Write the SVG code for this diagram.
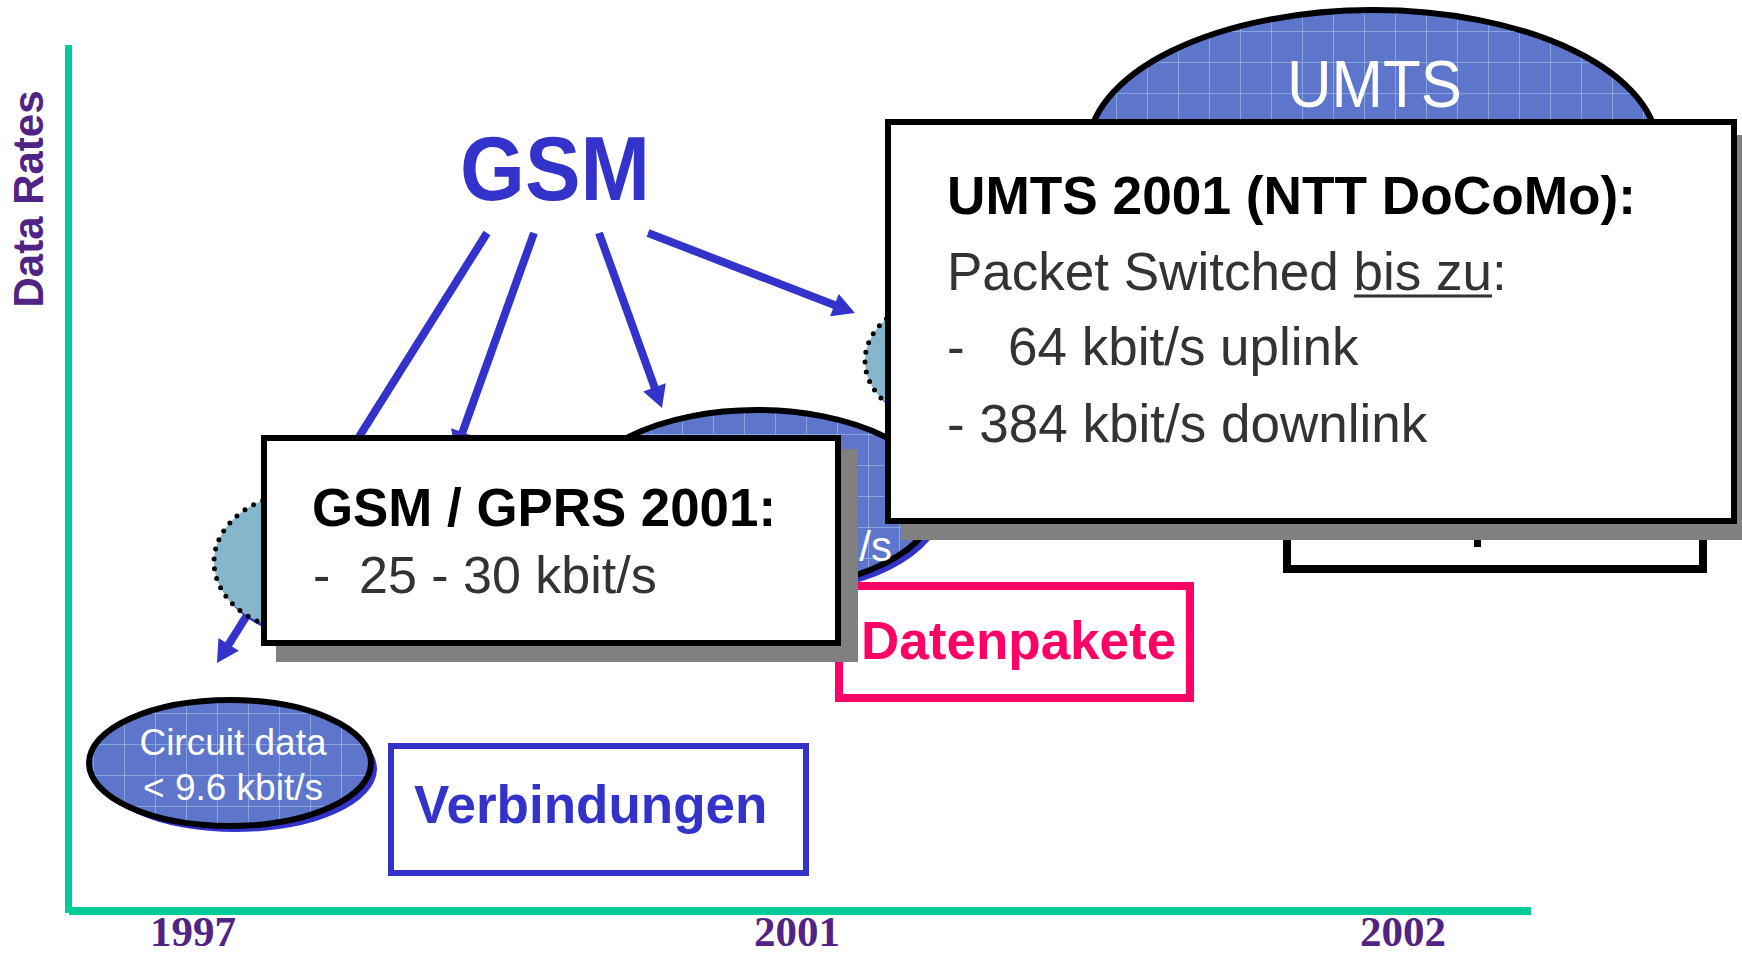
<svg xmlns="http://www.w3.org/2000/svg" width="1742" height="954" viewBox="0 0 1742 954">
  <defs>
    <!-- textured blue fill with a light grid, used by the technology ellipses -->
    <pattern id="gridFill" width="31" height="31" patternUnits="userSpaceOnUse">
      <rect width="31" height="31" fill="#5D76CC"/>
      <path d="M0 0.5H31M0.5 0V31" stroke="#93B4E0" stroke-width="1" opacity="0.75" fill="none"/>
    </pattern>
    <marker id="head" viewBox="0 -12 22 24" refX="2" refY="0" markerWidth="22" markerHeight="24" markerUnits="userSpaceOnUse" orient="auto" overflow="visible">
      <path d="M0 -12 L22 0 L0 12 Z" fill="#3333CC"/>
    </marker>
    <style>
      .axis { fill: #00CC99; }
      .arrow { stroke: #3333CC; stroke-width: 8; fill: none; marker-end: url(#head); }
      .ell { fill: url(#gridFill); stroke: #000; stroke-width: 6; }
      .ellShadow { fill: #3333CC; }
      .dotted { fill: #86B6CC; stroke: #000; stroke-width: 5; stroke-dasharray: 0 10; stroke-linecap: round; }
      .dotShadow { fill: #3333CC; }
      .panel { fill: #fff; stroke: #000; stroke-width: 6; }
      .panelShadow { fill: #808080; }
      .sans { font-family: "Liberation Sans", Arial, sans-serif; }
      .serif { font-family: "Liberation Serif", "Times New Roman", serif; }
      .bold { font-weight: bold; }
      .purple { fill: #502384; }
      .blue { fill: #3333CC; }
      .white { fill: #fff; }
      .dark { fill: #333333; }
      .black { fill: #000; }
    </style>
  </defs>

  <rect width="1742" height="954" fill="#fff"/>

  <!-- axes -->
  <g id="axes">
    <rect class="axis" x="65" y="45" width="7" height="868"/>
    <rect class="axis" x="69" y="907" width="1462" height="8"/>
    <text class="sans bold purple" font-size="42" text-anchor="middle" transform="translate(43,199) rotate(-90)">Data Rates</text>
    <text class="serif bold purple" font-size="43" x="193" y="946" text-anchor="middle">1997</text>
    <text class="serif bold purple" font-size="43" x="797" y="946" text-anchor="middle">2001</text>
    <text class="serif bold purple" font-size="43" x="1403" y="946" text-anchor="middle">2002</text>
  </g>

  <!-- connectors from GSM -->
  <g id="connectors">
    <line class="arrow" x1="487" y1="233" x2="227.6" y2="646.1"/>
    <line class="arrow" x1="534" y1="233" x2="461.8" y2="434.2"/>
    <line class="arrow" x1="599" y1="233" x2="655.2" y2="389.2"/>
    <line class="arrow" x1="648" y1="233" x2="836.3" y2="305.8"/>
  </g>

  <g id="gsm">
    <text class="sans bold blue" font-size="90" x="460" y="200" textLength="190" lengthAdjust="spacingAndGlyphs">GSM</text>
  </g>

  <g id="circuit-data">
    <ellipse class="ellShadow" cx="236" cy="769" rx="141" ry="63"/>
    <ellipse class="ell" cx="230" cy="763" rx="141" ry="63"/>
    <text class="sans white" font-size="37" x="233" y="755" text-anchor="middle">Circuit data</text>
    <text class="sans white" font-size="37" x="233" y="800" text-anchor="middle">&lt; 9.6 kbit/s</text>
  </g>

  <g id="dotted-left">
    <ellipse class="dotShadow" cx="311" cy="567" rx="93" ry="70"/>
    <ellipse class="dotted" cx="307" cy="562" rx="93" ry="70"/>
  </g>

  <g id="dotted-right">
    <ellipse class="dotShadow" cx="962" cy="366" rx="93" ry="66"/>
    <ellipse class="dotted" cx="958" cy="361" rx="93" ry="66"/>
  </g>

  <g id="gprs-ellipse">
    <ellipse class="ellShadow" cx="763" cy="506" rx="180" ry="90"/>
    <ellipse class="ell" cx="757" cy="500" rx="180" ry="90"/>
    <text class="sans white" font-size="42" x="892" y="561" text-anchor="end">/s</text>
  </g>

  <g id="umts-ellipse">
    <ellipse class="ellShadow" cx="1378" cy="155" rx="285" ry="140"/>
    <ellipse class="ell" cx="1373" cy="150" rx="285" ry="140"/>
    <text class="sans white" font-size="66" x="1287" y="107" textLength="175" lengthAdjust="spacingAndGlyphs">UMTS</text>
  </g>

  <g id="datenpakete">
    <rect x="839" y="586" width="351" height="112" fill="#fff" stroke="#FF0066" stroke-width="8"/>
    <text class="sans bold" fill="#FF0066" font-size="53" x="861" y="659">Datenpakete</text>
  </g>

  <g id="verbindungen">
    <rect x="391" y="746" width="415" height="127" fill="#fff" stroke="#3333CC" stroke-width="6"/>
    <text class="sans bold blue" font-size="53" x="414" y="823">Verbindungen</text>
  </g>

  <g id="back-panel">
    <rect x="1287" y="470" width="416" height="99" fill="#fff" stroke="#000" stroke-width="8"/>
    <rect x="1474" y="538" width="7" height="9" fill="#000"/>
  </g>

  <g id="umts-panel">
    <rect class="panelShadow" x="901" y="135" width="852" height="405"/>
    <rect class="panel" x="888" y="122" width="846" height="399"/>
    <text class="sans bold black" font-size="54" x="947" y="214" textLength="689" lengthAdjust="spacingAndGlyphs">UMTS 2001 (NTT DoCoMo):</text>
    <text class="sans dark" font-size="53" x="947" y="290">Packet Switched bis zu:</text>
    <line x1="1354" y1="296" x2="1492" y2="296" stroke="#333333" stroke-width="3"/>
    <text class="sans dark" font-size="53" y="365"><tspan x="947">-</tspan><tspan x="1008">64 kbit/s uplink</tspan></text>
    <text class="sans dark" font-size="53" x="947" y="442">- 384 kbit/s downlink</text>
  </g>

  <g id="gprs-panel">
    <rect class="panelShadow" x="276" y="449" width="582" height="213"/>
    <rect class="panel" x="264" y="438" width="574" height="205"/>
    <text class="sans bold black" font-size="53" x="312" y="526" textLength="464" lengthAdjust="spacingAndGlyphs">GSM / GPRS 2001:</text>
    <text class="sans dark" font-size="52" y="593"><tspan x="313">-</tspan><tspan x="359">25 - 30 kbit/s</tspan></text>
  </g>
</svg>
